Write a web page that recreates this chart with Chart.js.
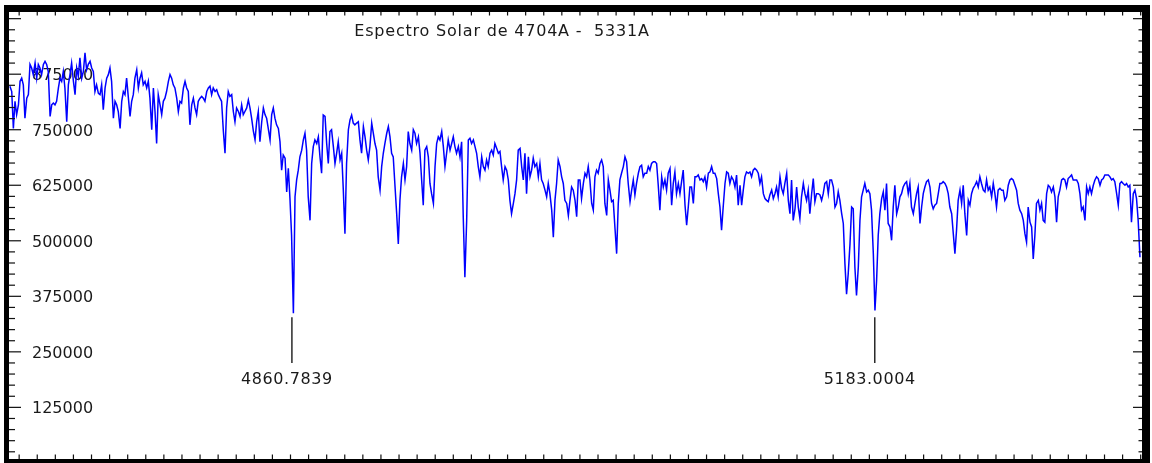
<!DOCTYPE html>
<html><head><meta charset="utf-8">
<script src="https://cdn.jsdelivr.net/npm/chart.js@4.4.1/dist/chart.umd.min.js"></script>
<style>html,body{margin:0;padding:0;background:#fff;overflow:hidden}canvas{display:block}</style>
</head><body>
<canvas id="c" width="1152" height="463"></canvas>
<script>
const chartTitle = 'Espectro Solar de 4704A -  5331A';

const waveA = [4704.9,4705.9,4706.8,4707.7,4708.6,4709.6,4710.5,4711.4,4712.3,4713.2,
4714.2,4715.1,4716.0,4716.9,4717.8,4718.8,4719.7,4720.6,4721.5,4722.4,
4723.4,4724.3,4725.2,4726.1,4727.1,4728.0,4728.9,4729.8,4730.7,4731.7,
4732.6,4733.5,4734.4,4735.3,4736.3,4737.2,4738.1,4739.0,4740.0,4740.9,
4741.8,4742.7,4743.6,4744.6,4745.5,4746.4,4747.3,4748.2,4749.2,4750.1,
4751.0,4751.9,4752.8,4753.8,4754.7,4755.6,4756.5,4757.5,4758.4,4759.3,
4760.2,4761.1,4762.1,4763.0,4763.9,4764.8,4765.8,4766.7,4767.6,4768.5,
4769.4,4770.4,4771.3,4772.2,4773.1,4774.0,4775.0,4775.9,4776.8,4777.7,
4778.6,4779.6,4780.5,4781.4,4782.3,4783.3,4784.2,4785.1,4786.0,4786.9,
4787.9,4788.8,4789.7,4790.6,4791.5,4792.5,4793.4,4794.3,4795.2,4796.1,
4797.1,4798.0,4798.9,4799.8,4800.8,4801.7,4802.6,4803.5,4804.4,4805.4,
4806.3,4807.2,4808.1,4809.0,4810.0,4810.9,4811.8,4812.7,4813.7,4814.6,
4815.5,4816.4,4817.3,4818.3,4819.2,4820.1,4821.0,4821.9,4822.9,4823.8,
4824.7,4825.6,4826.5,4827.5,4828.4,4829.3,4830.2,4831.2,4832.1,4833.0,
4833.9,4834.8,4835.8,4836.7,4837.6,4838.5,4839.5,4840.4,4841.3,4842.2,
4843.1,4844.1,4845.0,4845.9,4846.8,4847.7,4848.7,4849.6,4850.5,4851.4,
4852.3,4853.3,4854.2,4855.1,4856.0,4857.0,4857.9,4858.8,4859.7,4860.6,
4861.6];
const fluxA = [848000,836000,753000,814000,784000,806000,859000,866000,851000,776000,
821000,829000,897000,889000,874000,900000,866000,897000,889000,874000,
897000,904000,897000,881000,780000,806000,810000,806000,814000,844000,
866000,859000,881000,844000,768000,851000,874000,900000,859000,829000,
889000,870000,912000,866000,881000,923000,885000,897000,904000,889000,
881000,836000,851000,832000,829000,851000,795000,844000,866000,874000,
889000,859000,776000,814000,806000,791000,753000,814000,836000,829000,
866000,821000,780000,814000,829000,866000,885000,844000,866000,878000,
851000,859000,844000,859000,821000,750000,844000,791000,719000,829000,
806000,784000,814000,821000,836000,859000,874000,866000,851000,844000,
821000,791000,814000,810000,844000,859000,844000,836000,761000,806000,
821000,799000,784000,814000,821000,825000,821000,814000,836000,844000,
848000,829000,844000,836000,840000,829000,821000,814000,746000,697000,
799000,836000,825000,829000,791000,768000,799000,791000,780000,806000,
784000,791000,799000,817000,799000,776000,746000,727000,768000,791000,
723000,768000,799000,784000,776000,753000,727000,784000,799000,776000,
761000,753000,723000,659000,693000,686000,610000,663000,595000,512000,
337000];

const waveB = [4862.5,4863.4,4864.3,4865.2,4866.2,4867.1,4868.0,4868.9,4869.8,
4870.8,4871.7,4872.6,4873.5,4874.5,4875.4,4876.3,4877.2,4878.1,4879.1,
4880.0,4880.9,4881.8,4882.7,4883.7,4884.6,4885.5,4886.4,4887.4,4888.3,
4889.2,4890.1,4891.0,4892.0,4892.9,4893.8,4894.7,4895.6,4896.6,4897.5,
4898.4,4899.3,4900.3,4901.2,4902.1,4903.0,4903.9,4904.9,4905.8,4906.7,
4907.6,4908.5,4909.5,4910.4,4911.3,4912.2,4913.2,4914.1,4915.0,4915.9,
4916.8,4917.8,4918.7,4919.6,4920.5,4921.4,4922.4,4923.3,4924.2,4925.1,
4926.0,4927.0,4927.9,4928.8,4929.7,4930.7,4931.6,4932.5,4933.4,4934.3,
4935.3,4936.2,4937.1,4938.0,4939.0,4939.9,4940.8,4941.7,4942.6,4943.6,
4944.5,4945.4,4946.3,4947.2,4948.2,4949.1,4950.0,4950.9,4951.8,4952.8,
4953.7,4954.6,4955.5,4956.4,4957.4,4958.3,4959.2,4960.1,4961.1,4962.0,
4962.9,4963.8,4964.7,4965.7,4966.6,4967.5,4968.4,4969.3,4970.3,4971.2,
4972.1,4973.0,4974.0,4974.9,4975.8,4976.7,4977.6,4978.6,4979.5,4980.4,
4981.3,4982.2,4983.2,4984.1,4985.0,4985.9,4986.9,4987.8,4988.7,4989.6,
4990.5,4991.5,4992.4,4993.3,4994.2,4995.1,4996.1,4997.0,4997.9,4998.8,
4999.7,5000.7,5001.6,5002.5,5003.4,5004.4,5005.3,5006.2,5007.1,5008.0,
5009.0,5009.9,5010.8,5011.7,5012.7,5013.6,5014.5,5015.4,5016.3,5017.3,
5018.2,5019.1,5020.0];
const fluxB = [599000,637000,659000,689000,704000,727000,742000,704000,599000,546000,
674000,712000,727000,719000,734000,689000,652000,783000,780000,719000,
674000,746000,750000,712000,674000,697000,723000,682000,697000,614000,
516000,674000,750000,772000,783000,765000,761000,765000,768000,727000,
697000,757000,734000,704000,682000,712000,765000,742000,719000,704000,
644000,614000,667000,697000,719000,742000,757000,734000,697000,689000,
621000,561000,493000,591000,644000,674000,637000,667000,746000,719000,
704000,750000,742000,719000,734000,697000,637000,580000,704000,712000,
689000,629000,606000,584000,667000,719000,734000,727000,746000,712000,
667000,697000,727000,704000,719000,734000,712000,697000,712000,689000,
723000,554000,418000,546000,727000,731000,719000,727000,712000,697000,
667000,644000,689000,667000,659000,682000,667000,697000,704000,693000,
719000,708000,697000,701000,667000,637000,667000,659000,637000,591000,
561000,584000,606000,637000,704000,708000,667000,637000,697000,606000,
689000,644000,659000,686000,667000,674000,644000,674000,637000,629000,
614000,599000,629000,606000,569000,508000,591000,629000,682000,667000,
644000,629000,591000,584000,557000,591000,621000,614000,591000,554000,
637000,637000];

const waveC = [5020.9,5021.9,5022.8,5023.7,5024.6,5025.5,5026.5,
5027.4,5028.3,5029.2,5030.1,5031.1,5032.0,5032.9,5033.8,5034.8,5035.7,
5036.6,5037.5,5038.4,5039.4,5040.3,5041.2,5042.1,5043.0,5044.0,5044.9,
5045.8,5046.7,5047.7,5048.6,5049.5,5050.4,5051.3,5052.3,5053.2,5054.1,
5055.0,5055.9,5056.9,5057.8,5058.7,5059.6,5060.6,5061.5,5062.4,5063.3,
5064.2,5065.2,5066.1,5067.0,5067.9,5068.8,5069.8,5070.7,5071.6,5072.5,
5073.4,5074.4,5075.3,5076.2,5077.1,5078.1,5079.0,5079.9,5080.8,5081.7,
5082.7,5083.6,5084.5,5085.4,5086.4,5087.3,5088.2,5089.1,5090.0,5091.0,
5091.9,5092.8,5093.7,5094.6,5095.6,5096.5,5097.4,5098.3,5099.2,5100.2,
5101.1,5102.0,5102.9,5103.8,5104.8,5105.7,5106.6,5107.5,5108.5,5109.4,
5110.3,5111.2,5112.1,5113.1,5114.0,5114.9,5115.8,5116.7,5117.7,5118.6,
5119.5,5120.4,5121.4,5122.3,5123.2,5124.1,5125.0,5126.0,5126.9,5127.8,
5128.7,5129.6,5130.6,5131.5,5132.4,5133.3,5134.3,5135.2,5136.1,5137.0,
5137.9,5138.9,5139.8,5140.7,5141.6,5142.5,5143.5,5144.4,5145.3,5146.2,
5147.1,5148.1,5149.0,5149.9,5150.8,5151.8,5152.7,5153.6,5154.5,5155.4,
5156.4,5157.3,5158.2,5159.1,5160.1,5161.0,5161.9,5162.8,5163.7,5164.7,
5165.6,5166.5,5167.4,5168.3,5169.3,5170.2,5171.1,5172.0,5172.9,5173.9,
5174.8,5175.7,5176.6];
const fluxC = [595000,629000,652000,644000,667000,637000,584000,569000,644000,659000,
652000,674000,682000,667000,584000,557000,637000,614000,588000,591000,
527000,471000,584000,637000,652000,667000,689000,678000,629000,588000,
614000,637000,603000,629000,652000,667000,670000,644000,652000,652000,
667000,659000,674000,678000,678000,674000,625000,569000,644000,621000,
637000,614000,652000,663000,580000,629000,655000,606000,629000,606000,
633000,659000,580000,535000,576000,621000,621000,584000,644000,644000,
648000,637000,640000,633000,644000,621000,652000,655000,667000,652000,
652000,640000,606000,576000,524000,576000,629000,655000,652000,629000,
644000,637000,621000,648000,580000,625000,580000,614000,644000,655000,
652000,655000,644000,659000,663000,659000,652000,629000,644000,606000,
595000,591000,588000,603000,614000,595000,606000,621000,599000,644000,
618000,606000,629000,652000,591000,561000,637000,546000,572000,621000,
576000,550000,599000,629000,606000,591000,614000,561000,606000,640000,
588000,606000,606000,603000,591000,606000,629000,633000,606000,637000,
637000,621000,576000,584000,610000,591000,561000,539000,448000,380000,
425000,493000,576000,572000,441000,377000,441000,546000,599000,614000];

const waveD = [5177.5,5178.5,5179.4,5180.3,5181.2,5182.2,5183.1,
5184.0,5184.9,5185.8,5186.8,5187.7,5188.6,5189.5,5190.4,5191.4,5192.3,
5193.2,5194.1,5195.1,5196.0,5196.9,5197.8,5198.7,5199.7,5200.6,5201.5,
5202.4,5203.3,5204.3,5205.2,5206.1,5207.0,5208.0,5208.9,5209.8,5210.7,
5211.6,5212.6,5213.5,5214.4,5215.3,5216.2,5217.2,5218.1,5219.0,5219.9,
5220.8,5221.8,5222.7,5223.6,5224.5,5225.5,5226.4,5227.3,5228.2,5229.1,
5230.1,5231.0,5231.9,5232.8,5233.8,5234.7,5235.6,5236.5,5237.4,5238.4,
5239.3,5240.2,5241.1,5242.0,5243.0,5243.9,5244.8,5245.7,5246.6,5247.6,
5248.5,5249.4,5250.3,5251.2,5252.2,5253.1,5254.0,5254.9,5255.9,5256.8,
5257.7,5258.6,5259.5,5260.5,5261.4,5262.3,5263.2,5264.2,5265.1,5266.0,
5266.9,5267.8,5268.8,5269.7,5270.6,5271.5,5272.4,5273.4,5274.3,5275.2,
5276.1,5277.0,5278.0,5278.9,5279.8,5280.7,5281.7,5282.6,5283.5,5284.4,
5285.3,5286.3,5287.2,5288.1,5289.0,5289.9,5290.9,5291.8,5292.7,5293.6,
5294.6,5295.5,5296.4,5297.3,5298.2,5299.2,5300.1,5301.0,5301.9,5302.8,
5303.8,5304.7,5305.6,5306.5,5307.5,5308.4,5309.3,5310.2,5311.1,5312.1,
5313.0,5313.9,5314.8,5315.7,5316.7,5317.6,5318.5,5319.4,5320.3,5321.3,
5322.2,5323.1,5324.0,5324.9,5325.9,5326.8,5327.7,5328.6,5329.6];
const fluxD = [629000,610000,614000,606000,569000,471000,343000,410000,512000,561000,
595000,610000,569000,629000,539000,531000,501000,576000,625000,561000,
576000,599000,606000,621000,629000,633000,606000,629000,576000,561000,
584000,606000,621000,539000,576000,606000,621000,633000,637000,621000,
584000,572000,580000,584000,606000,629000,629000,633000,629000,621000,
606000,576000,561000,516000,471000,524000,591000,614000,584000,625000,
561000,512000,591000,580000,606000,618000,625000,633000,621000,644000,
629000,614000,610000,637000,614000,621000,599000,629000,606000,576000,
614000,618000,614000,614000,591000,599000,625000,637000,640000,637000,
625000,614000,584000,569000,561000,546000,516000,497000,576000,542000,
531000,459000,512000,584000,591000,569000,584000,546000,542000,606000,
625000,621000,610000,621000,599000,542000,599000,614000,637000,640000,
637000,621000,640000,644000,648000,637000,637000,637000,629000,606000,
569000,576000,546000,621000,606000,621000,606000,625000,637000,644000,
640000,625000,637000,640000,648000,648000,648000,644000,637000,640000,
633000,606000,580000,629000,633000,629000,625000,629000,621000,625000,
542000,606000,614000,595000,546000,463000];

const yTickLabels = [125000, 250000, 375000, 500000, 625000, 750000, 875000];
const markerWaves = [4860.7839, 5183.0004];
const markerLabels = ['4860.7839', '5183.0004'];

const points = [];
[[waveA, fluxA], [waveB, fluxB], [waveC, fluxC], [waveD, fluxD]].forEach(([w, f]) => {
  const n = Math.min(w.length, f.length);
  for (let i = 0; i < n; i++) points.push({ x: w[i], y: f[i] });
});

const spectrumPlugin = {
  id: 'spectrumFrame',
  beforeDraw(chart) {
    const ctx = chart.ctx;
    ctx.save();
    ctx.fillStyle = '#ffffff';
    ctx.fillRect(0, 0, chart.width, chart.height);
    ctx.restore();
  },
  beforeDatasetsDraw(chart) {
    const ctx = chart.ctx, xs = chart.scales.x, ys = chart.scales.y;
    ctx.save();
    ctx.fillStyle = '#1a1a1a';
    ctx.font = '16px "DejaVu Sans", Verdana, sans-serif';
    ctx.textBaseline = 'alphabetic';
    // title
    ctx.textAlign = 'center';
    try { ctx.letterSpacing = '0.8px'; } catch (e) {}
    ctx.fillText(chartTitle, 502, 36);
    try { ctx.letterSpacing = '0px'; } catch (e) {}
    // y labels (inside the plot)
    ctx.textAlign = 'left';
    yTickLabels.forEach(v => {
      const y = ys.getPixelForValue(v);
      ctx.fillText(String(v), 32, y + 6);
    });
    // markers
    ctx.strokeStyle = '#1a1a1a';
    ctx.lineWidth = 1.4;
    markerWaves.forEach((w, i) => {
      const x = xs.getPixelForValue(w);
      ctx.beginPath();
      ctx.moveTo(x, ys.getPixelForValue(328000));
      ctx.lineTo(x, ys.getPixelForValue(225000));
      ctx.stroke();
      ctx.textAlign = 'center';
      try { ctx.letterSpacing = '0.6px'; } catch (e) {}
      ctx.fillText(markerLabels[i], x - 5, ys.getPixelForValue(177000));
      try { ctx.letterSpacing = '0px'; } catch (e) {}
    });
    ctx.restore();
  },
  afterDraw(chart) {
    const ctx = chart.ctx, xs = chart.scales.x, ys = chart.scales.y;
    ctx.save();
    ctx.fillStyle = '#000';
    // frame
    ctx.fillRect(4, 5, 1146, 7);
    ctx.fillRect(4, 5, 5, 458);
    ctx.fillRect(1142, 5, 8, 458);
    ctx.fillRect(4, 459, 1146, 4);
    ctx.fillStyle = '#111';
    // x ticks top & bottom every 10 A
    for (let w = 4710; w <= 5330; w += 10) {
      const x = xs.getPixelForValue(w);
      ctx.fillRect(x - 0.6, 12, 1.2, 3.5);
      ctx.fillRect(x - 0.6, 454.5, 1.2, 4.5);
    }
    // y ticks left & right
    for (let v = 25000; v <= 1000000; v += 25000) {
      const y = ys.getPixelForValue(v);
      const major = v % 125000 === 0;
      ctx.fillRect(9, y - 0.6, major ? 12 : 6, 1.2);
      if (major) ctx.fillRect(1133, y - 0.6, 9, 1.2);
      else ctx.fillRect(1138.5, y - 0.6, 3.5, 1.2);
    }
    ctx.restore();
  }
};

new Chart(document.getElementById('c'), {
  type: 'line',
  data: {
    datasets: [{
      data: points,
      borderColor: '#0000ff',
      borderWidth: 1.5,
      pointRadius: 0,
      tension: 0,
      fill: false
    }]
  },
  options: {
    responsive: false,
    animation: false,
    devicePixelRatio: 1,
    layout: { padding: { left: 8.3, right: 9.5, top: 12, bottom: 0.1 } },
    scales: {
      x: { type: 'linear', min: 4704, max: 5331, display: false },
      y: { type: 'linear', min: 0, max: 1015000, display: false }
    },
    plugins: { legend: { display: false }, tooltip: { enabled: false }, title: { display: false } }
  },
  plugins: [spectrumPlugin]
});
</script>
</body></html>
